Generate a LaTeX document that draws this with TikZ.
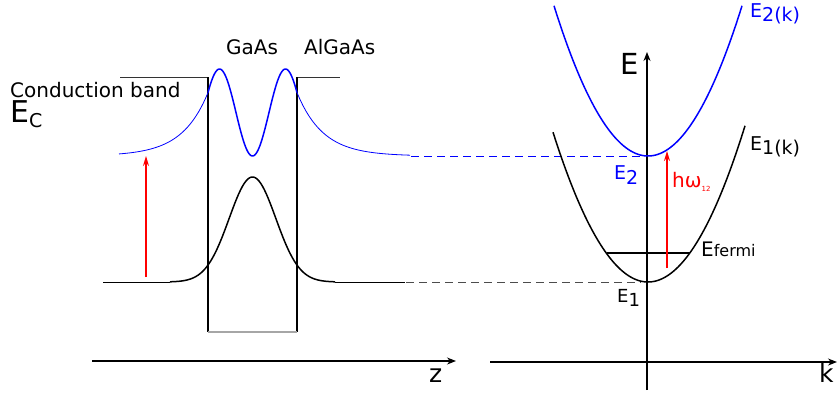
\documentclass[tikz,border=0pt]{standalone}
\usepackage{fontspec}
\setmainfont{DejaVu Sans}
\usetikzlibrary{arrows.meta}

\newcommand{\fs}[1]{\fontsize{#1}{#1}\selectfont}
\newcommand{\lowsub}[2]{\raisebox{-#1pt}{#2}}

\begin{document}
\begin{tikzpicture}[x=1pt, y=-1pt,
                    txt/.style={inner sep=0pt, anchor=base west, font=\fs{20}},
                    wall/.style={line width=1.7pt},
                    rim/.style={line width=0.9pt, black!80},
                    wave/.style={line width=1.5pt},
                    tail/.style={line width=0.8pt},
                    axis/.style={line width=1.2pt, -{Stealth[length=9pt,width=7pt]}},
                    photon/.style={red, line width=1.4pt, -{Stealth[length=10pt,width=6pt]}},
                    link/.style={line width=1pt, dash pattern=on 8pt off 5pt}]
  \useasboundingbox (0,0) rectangle (837,394);

  \draw[rim] (120,77) -- (208,77);
  \draw[rim] (297,77) -- (340,77);
  \draw[wall] (208,77) -- (208,332);
  \draw[wall] (297,77) -- (297,332);
  \draw[line width=1.4pt, black!35] (208,332) -- (297,332);

  \draw[blue, tail, domain=119:208, samples=40] plot (\x, {156-63.4*exp((\x-208)/26)});
  \draw[blue, wave, domain=208:297, samples=90] plot (\x, {156-87*pow(sin((\x-252.5)*2.7273),2)});
  \draw[blue, tail, domain=297:410, samples=40] plot (\x, {156-63.4*exp(-(\x-297)/26)});

  \draw[tail] (103,282) -- (170,282);
  \draw[wave, domain=170:335, samples=90] plot (\x, {282-105*exp(-0.5*pow((\x-252.5)/23.3,2))});
  \draw[tail] (335,282) -- (405,282);

  \coordinate (lft) at (411,156);
  \coordinate (lfb) at (406,282);
  \coordinate (vtop) at (641,156);
  \coordinate (vbot) at (641,282);
  \draw[blue, link] (lft) -- (vtop);
  \draw[black!70, link] (lfb) -- (vbot);

  \coordinate (pa) at (146,277);
  \coordinate (pb) at (146,156);
  \draw[photon] (pa) -- (pb);

  \coordinate (zo) at (92,361);
  \coordinate (zt) at (456,361);
  \draw[axis] (zo) -- (zt);

  \coordinate (eo) at (647,390);
  \coordinate (et) at (647,52);
  \draw[axis] (eo) -- (et);
  \coordinate (ko) at (490,362);
  \coordinate (kt) at (837,362);
  \draw[axis] (ko) -- (kt);

  \draw[blue, wave, domain=554:742, samples=90] plot (\x, {156-0.0170*pow(\x-648,2)});
  \draw[wave, domain=553:745, samples=90] plot (\x, {282-0.0166*pow(\x-648,2)});

  \coordinate (fl) at (607,253);
  \coordinate (fr) at (690,253);
  \draw[line width=1.2pt] (fl) -- (fr);

  \coordinate (qa) at (667,268);
  \coordinate (qb) at (667,151);
  \draw[photon] (qa) -- (qb);

  \node[txt] (gaas) at (226,54) {GaAs};
  \node[txt] (algaas) at (304,54) {AlGaAs};
  \node[txt] (cband) at (10,97) {Conduction band};
  \node[txt, font=\fs{30}] (ec) at (10,122) {E\lowsub{5}{\fs{19}C}};
  \node[txt, font=\fs{25}] (zlab) at (429,382) {z};
  \node[txt, font=\fs{25}] (klab) at (819,382) {k};
  \node[txt, font=\fs{29}] (elab) at (620,74) {E};
  \node[txt, blue, font=\fs{19}] (e2k) at (750,17) {E\lowsub{4}{2(k)}};
  \node[txt, font=\fs{19}] (e1k) at (750,150) {E\lowsub{4}{1(k)}};
  \node[txt, blue, font=\fs{19}] (e2) at (614,179) {E\lowsub{5}{2}};
  \node[txt, font=\fs{18}] (e1) at (617,302) {E\lowsub{4}{1}};
  \node[txt, red, font=\fs{20}] (hw) at (672,187) {hω\lowsub{4}{\fs{7}12}};
  \node[txt, font=\fs{20}] (ef) at (701,256) {E{\fs{16}fermi}};
\end{tikzpicture}
\end{document}
